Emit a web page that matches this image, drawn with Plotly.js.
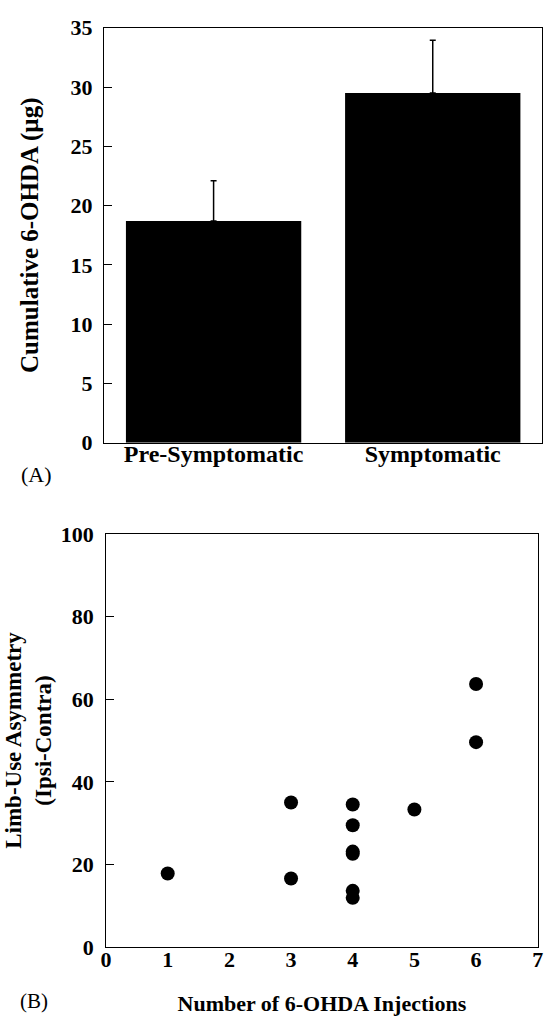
<!DOCTYPE html>
<html>
<head>
<meta charset="utf-8">
<script src="https://cdn.plot.ly/plotly-3.0.1.min.js"></script>
<style>html,body{margin:0;padding:0;background:#fff;}#chart{width:544px;height:1016px;}</style>
</head>
<body>
<div id="chart"></div>
<script>
// Panel A data
var groupPositions = [1, 2];
var groupLabels = ['Pre-Symptomatic', 'Symptomatic'];
var cumulativeDose = [18.7, 29.5];
var doseErrorUp = [3.4, 4.45];
var yTicksA = [0, 5, 10, 15, 20, 25, 30, 35];

// Panel B data
var injections = [1, 3, 3, 4, 4, 4, 4, 4, 4, 5, 6, 6];
var asymmetry = [17.8, 35.0, 16.6, 34.5, 29.5, 23.1, 22.6, 13.6, 11.9, 33.3, 63.7, 49.6];
var xTicksB = [0, 1, 2, 3, 4, 5, 6, 7];
var yTicksB = [0, 20, 40, 60, 80, 100];

var FONT = 'Liberation Serif, Times New Roman, serif';
var boldFont = function (s) { return {family: FONT, size: s, color: '#000', weight: 'bold'}; };

var traces = [
  {
    type: 'bar', x: groupPositions, y: cumulativeDose, width: 0.8,
    marker: {color: '#000', line: {width: 0}},
    error_y: {type: 'data', symmetric: false, array: doseErrorUp, arrayminus: [0, 0],
              color: '#000', thickness: 1.5, width: 3},
    xaxis: 'x', yaxis: 'y', showlegend: false, hoverinfo: 'none'
  },
  {
    type: 'scatter', mode: 'markers', x: injections, y: asymmetry,
    marker: {color: '#000', size: 14, line: {width: 0}},
    xaxis: 'x2', yaxis: 'y2', showlegend: false, hoverinfo: 'none'
  }
];

var layout = {
  width: 544, height: 1016,
  margin: {l: 0, r: 0, t: 0, b: 0},
  paper_bgcolor: '#fff', plot_bgcolor: '#fff',
  showlegend: false,
  xaxis: {
    domain: [0.1912, 0.9969], range: [0.5, 2.5], anchor: 'y',
    tickvals: groupPositions, ticktext: groupLabels, ticks: '',
    ticklabelstandoff: -10,
    tickfont: boldFont(24), showline: true, linecolor: '#000', linewidth: 1,
    mirror: true, showgrid: false, zeroline: false, fixedrange: true
  },
  xaxis3: {
    overlaying: 'x', anchor: 'y', range: [0.5, 2.5], tickvals: [1.5],
    showticklabels: false, ticks: 'inside', ticklen: 8, tickwidth: 1, tickcolor: '#000',
    showline: false, showgrid: false, zeroline: false, fixedrange: true
  },
  yaxis: {
    domain: [0.5643, 0.9727], range: [0, 35], anchor: 'x',
    tickvals: yTicksA, ticks: 'inside', ticklen: 8, tickwidth: 1, tickcolor: '#000',
    ticklabelstandoff: 6,
    tickfont: boldFont(22), showline: true, linecolor: '#000', linewidth: 1,
    mirror: true, showgrid: false, zeroline: false, fixedrange: true,
    title: {text: 'Cumulative 6-OHDA (µg)', font: boldFont(25), standoff: 24}
  },
  xaxis2: {
    domain: [0.1949, 0.9885], range: [0, 7], anchor: 'y2',
    tickvals: xTicksB, ticks: '', ticklabeloverflow: 'allow',
    ticklabelstandoff: -7,
    tickfont: boldFont(22), showline: true, linecolor: '#000', linewidth: 1,
    mirror: true, showgrid: false, zeroline: false, fixedrange: true,
    title: {text: 'Number of 6-OHDA Injections', font: boldFont(22), standoff: 32}
  },
  xaxis4: {
    overlaying: 'x2', anchor: 'y2', range: [0, 7], tickvals: xTicksB,
    showticklabels: false, ticks: 'inside', ticklen: 7, tickwidth: 1, tickcolor: '#000',
    showline: false, showgrid: false, zeroline: false, fixedrange: true
  },
  yaxis2: {
    domain: [0.0679, 0.4744], range: [0, 100], anchor: 'x2',
    tickvals: yTicksB, ticks: 'inside', ticklen: 8, tickwidth: 1, tickcolor: '#000',
    ticklabelstandoff: 7,
    tickfont: boldFont(22), showline: true, linecolor: '#000', linewidth: 1,
    mirror: true, showgrid: false, zeroline: false, fixedrange: true,
    title: {text: 'Limb-Use Asymmetry<br>(Ipsi-Contra)', font: boldFont(23), standoff: 2}
  },
  annotations: [
    {text: '(A)', xref: 'paper', yref: 'paper', x: 0.0675, y: 0.5325,
     xanchor: 'center', yanchor: 'middle', showarrow: false,
     font: {family: FONT, size: 22, color: '#000'}},
    {text: '(B)', xref: 'paper', yref: 'paper', x: 0.0625, y: 0.0148,
     xanchor: 'center', yanchor: 'middle', showarrow: false,
     font: {family: FONT, size: 21, color: '#000'}}
  ]
};

Plotly.newPlot('chart', traces, layout, {displayModeBar: false, staticPlot: true});
</script>
</body>
</html>
